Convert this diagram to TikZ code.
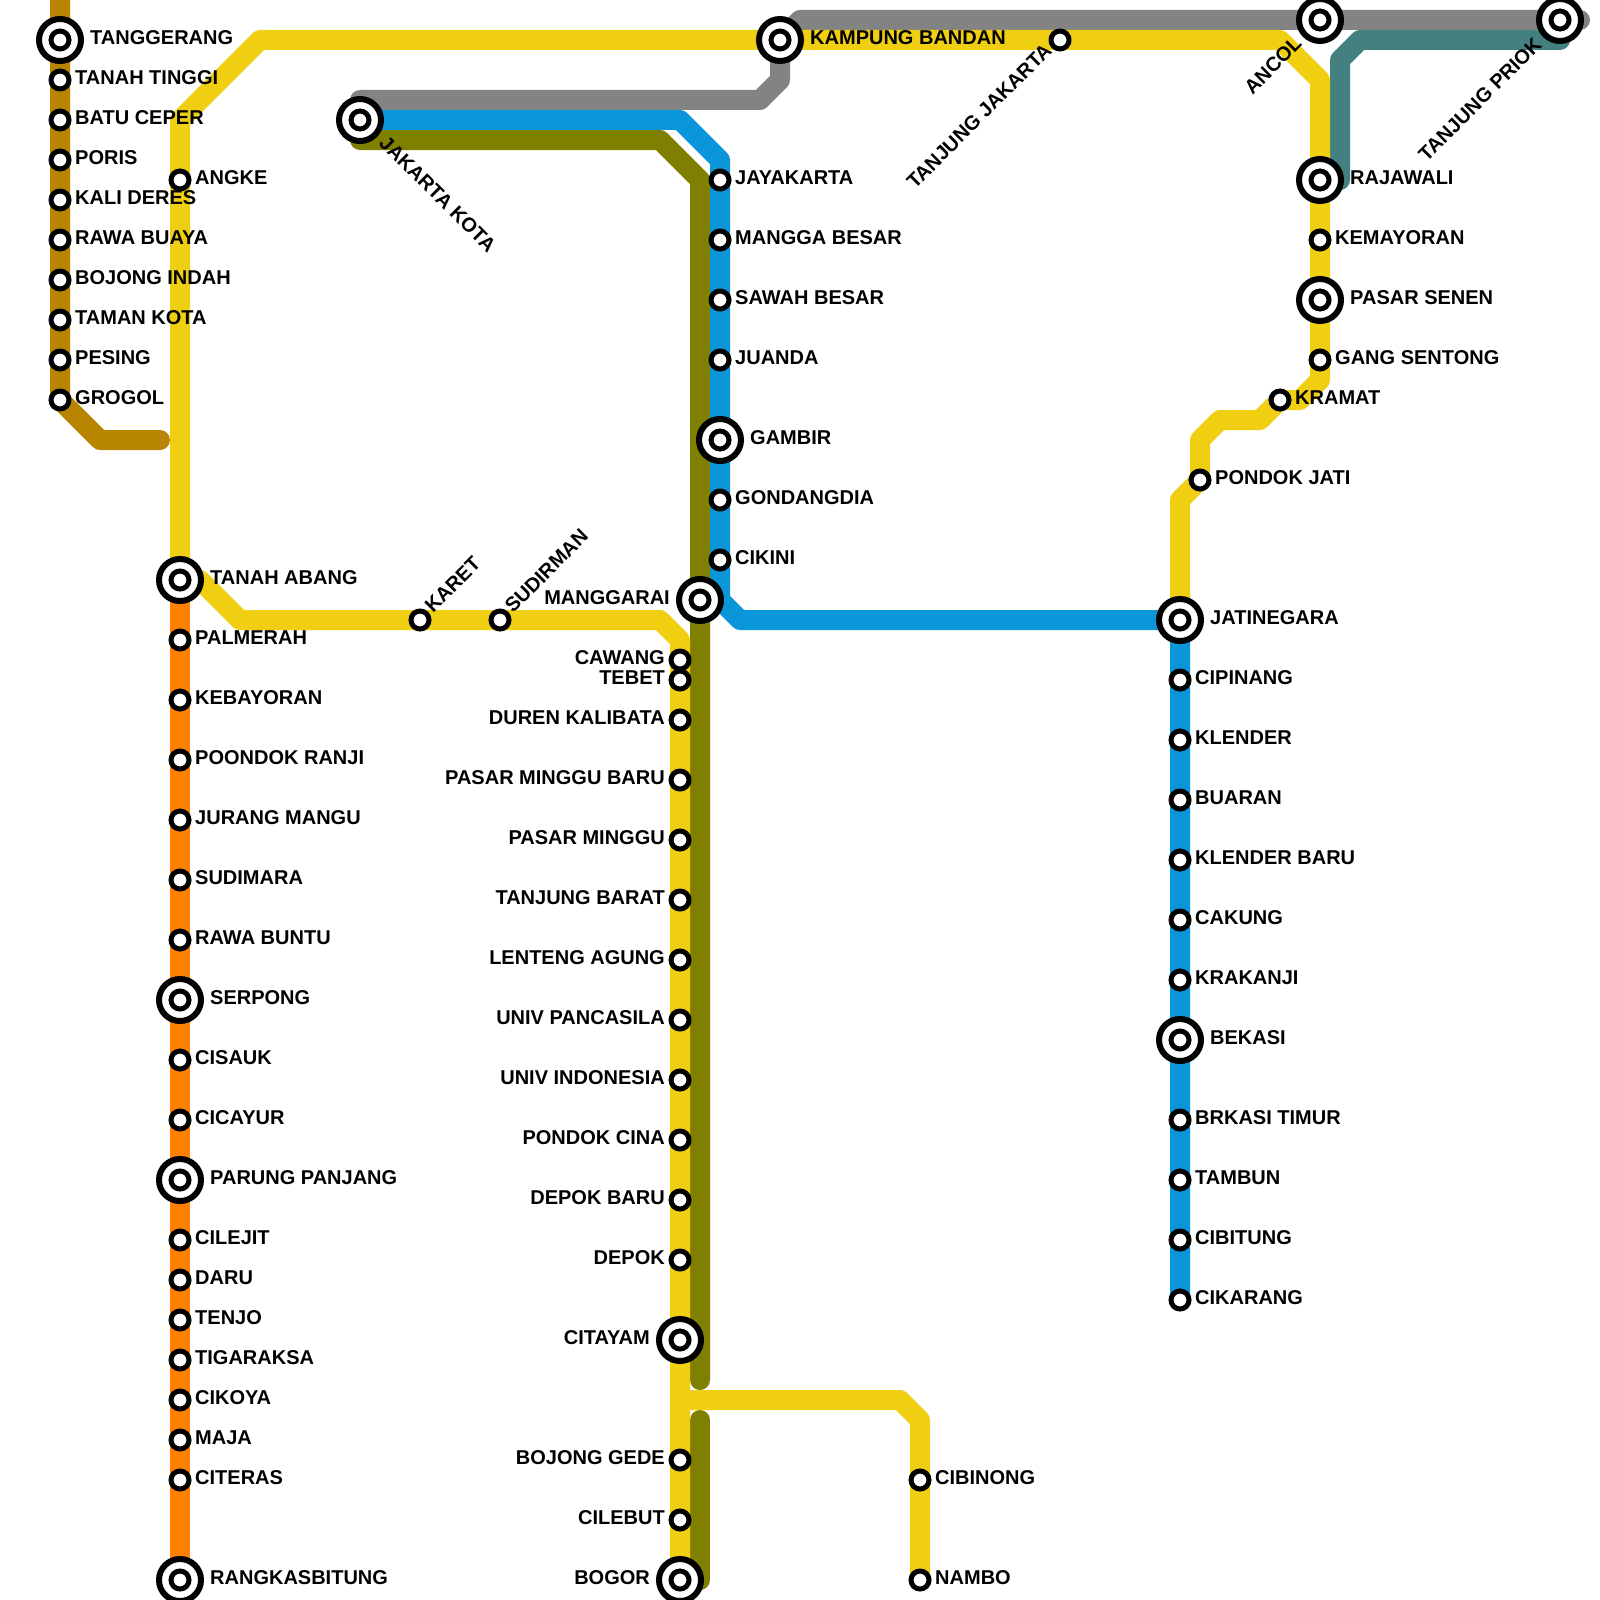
\documentclass[tikz,border=0pt]{standalone}
\usepackage{fontspec}
\setmainfont{Liberation Sans}
\usetikzlibrary{backgrounds}
\definecolor{linebrown}{HTML}{B88500}
\definecolor{lineyellow}{HTML}{F0CF13}
\definecolor{lineorange}{HTML}{FF8000}
\definecolor{lineblue}{HTML}{0A96D8}
\definecolor{lineolive}{HTML}{808000}
\definecolor{linegray}{HTML}{838383}
\definecolor{lineteal}{HTML}{448080}
\tikzset{
  every label/.style={
    font=\bfseries\fontsize{20}{24}\selectfont,
    inner sep=0pt,
    text height=14pt,
    text depth=0pt,
    yshift=2.5pt
  },
  tiltname/.style={
    font=\bfseries\fontsize{20}{24}\selectfont,
    inner sep=0pt
  },
  stop/.style={
    circle,
    draw=black,
    fill=white,
    line width=5pt,
    minimum size=18pt,
    inner sep=0pt,
    outer sep=6pt
  },
  hub/.style={
    circle,
    draw=black,
    fill=white,
    line width=6pt,
    minimum size=42pt,
    inner sep=0pt,
    outer sep=9pt,
    path picture={\draw[line width=5pt] (path picture bounding box.center) circle (9pt);}
  },
  metro/.style={
    line width=20pt,
    line cap=round,
    line join=round
  }
}
\begin{document}
\begin{tikzpicture}[x=1pt,y=-1pt]
\useasboundingbox (0,0) rectangle (1600,1600);

% Tangerang line
\node[hub, label={right:TANGGERANG}] (tanggerang) at (60,40) {};
\node[stop, label={right:TANAH TINGGI}] (tanahtinggi) at (60,80) {};
\node[stop, label={right:BATU CEPER}] (batuceper) at (60,120) {};
\node[stop, label={right:PORIS}] (poris) at (60,160) {};
\node[stop, label={right:KALI DERES}] (kalideres) at (60,200) {};
\node[stop, label={right:RAWA BUAYA}] (rawabuaya) at (60,240) {};
\node[stop, label={right:BOJONG INDAH}] (bojongindah) at (60,280) {};
\node[stop, label={right:TAMAN KOTA}] (tamankota) at (60,320) {};
\node[stop, label={right:PESING}] (pesing) at (60,360) {};
\node[stop, label={right:GROGOL}] (grogol) at (60,400) {};

% Rangkasbitung line
\node[stop, label={right:ANGKE}] (angke) at (180,180) {};
\node[hub, label={right:TANAH ABANG}] (tanahabang) at (180,580) {};
\node[stop, label={right:PALMERAH}] (palmerah) at (180,640) {};
\node[stop, label={right:KEBAYORAN}] (kebayoran) at (180,700) {};
\node[stop, label={right:POONDOK RANJI}] (poondokranji) at (180,760) {};
\node[stop, label={right:JURANG MANGU}] (jurangmangu) at (180,820) {};
\node[stop, label={right:SUDIMARA}] (sudimara) at (180,880) {};
\node[stop, label={right:RAWA BUNTU}] (rawabuntu) at (180,940) {};
\node[hub, label={right:SERPONG}] (serpong) at (180,1000) {};
\node[stop, label={right:CISAUK}] (cisauk) at (180,1060) {};
\node[stop, label={right:CICAYUR}] (cicayur) at (180,1120) {};
\node[hub, label={right:PARUNG PANJANG}] (parungpanjang) at (180,1180) {};
\node[stop, label={right:CILEJIT}] (cilejit) at (180,1240) {};
\node[stop, label={right:DARU}] (daru) at (180,1280) {};
\node[stop, label={right:TENJO}] (tenjo) at (180,1320) {};
\node[stop, label={right:TIGARAKSA}] (tigaraksa) at (180,1360) {};
\node[stop, label={right:CIKOYA}] (cikoya) at (180,1400) {};
\node[stop, label={right:MAJA}] (maja) at (180,1440) {};
\node[stop, label={right:CITERAS}] (citeras) at (180,1480) {};
\node[hub, label={right:RANGKASBITUNG}] (rangkasbitung) at (180,1580) {};

% Bogor line
\node[stop, label={left:CAWANG}] (cawang) at (680,660) {};
\node[stop, label={left:TEBET}] (tebet) at (680,680) {};
\node[stop, label={left:DUREN KALIBATA}] (durenkalibata) at (680,720) {};
\node[stop, label={left:PASAR MINGGU BARU}] (pasarminggubaru) at (680,780) {};
\node[stop, label={left:PASAR MINGGU}] (pasarminggu) at (680,840) {};
\node[stop, label={left:TANJUNG BARAT}] (tanjungbarat) at (680,900) {};
\node[stop, label={left:LENTENG AGUNG}] (lentengagung) at (680,960) {};
\node[stop, label={left:UNIV PANCASILA}] (univpancasila) at (680,1020) {};
\node[stop, label={left:UNIV INDONESIA}] (univindonesia) at (680,1080) {};
\node[stop, label={left:PONDOK CINA}] (pondokcina) at (680,1140) {};
\node[stop, label={left:DEPOK BARU}] (depokbaru) at (680,1200) {};
\node[stop, label={left:DEPOK}] (depok) at (680,1260) {};
\node[hub, label={left:CITAYAM}] (citayam) at (680,1340) {};
\node[stop, label={left:BOJONG GEDE}] (bojonggede) at (680,1460) {};
\node[stop, label={left:CILEBUT}] (cilebut) at (680,1520) {};
\node[hub, label={left:BOGOR}] (bogor) at (680,1580) {};
\node[stop, label={right:CIBINONG}] (cibinong) at (920,1480) {};
\node[stop, label={right:NAMBO}] (nambo) at (920,1580) {};

% central line
\node[hub] (jakartakota) at (360,120) {};
\node[stop, label={right:JAYAKARTA}] (jayakarta) at (720,180) {};
\node[stop, label={right:MANGGA BESAR}] (manggabesar) at (720,240) {};
\node[stop, label={right:SAWAH BESAR}] (sawahbesar) at (720,300) {};
\node[stop, label={right:JUANDA}] (juanda) at (720,360) {};
\node[hub, label={right:GAMBIR}] (gambir) at (720,440) {};
\node[stop, label={right:GONDANGDIA}] (gondangdia) at (720,500) {};
\node[stop, label={right:CIKINI}] (cikini) at (720,560) {};
\node[hub, label={left:MANGGARAI}] (manggarai) at (700,600) {};

% Bekasi line
\node[hub, label={right:JATINEGARA}] (jatinegara) at (1180,620) {};
\node[stop, label={right:CIPINANG}] (cipinang) at (1180,680) {};
\node[stop, label={right:KLENDER}] (klender) at (1180,740) {};
\node[stop, label={right:BUARAN}] (buaran) at (1180,800) {};
\node[stop, label={right:KLENDER BARU}] (klenderbaru) at (1180,860) {};
\node[stop, label={right:CAKUNG}] (cakung) at (1180,920) {};
\node[stop, label={right:KRAKANJI}] (krakanji) at (1180,980) {};
\node[hub, label={right:BEKASI}] (bekasi) at (1180,1040) {};
\node[stop, label={right:BRKASI TIMUR}] (brkasitimur) at (1180,1120) {};
\node[stop, label={right:TAMBUN}] (tambun) at (1180,1180) {};
\node[stop, label={right:CIBITUNG}] (cibitung) at (1180,1240) {};
\node[stop, label={right:CIKARANG}] (cikarang) at (1180,1300) {};

% loop line
\node[hub, label={right:KAMPUNG BANDAN}] (kampungbandan) at (780,40) {};
\node[stop] (tanjungjakarta) at (1060,40) {};
\node[hub] (ancol) at (1320,20) {};
\node[hub] (tanjungpriok) at (1560,20) {};
\node[hub, label={right:RAJAWALI}] (rajawali) at (1320,180) {};
\node[stop, label={right:KEMAYORAN}] (kemayoran) at (1320,240) {};
\node[hub, label={right:PASAR SENEN}] (pasarsenen) at (1320,300) {};
\node[stop, label={right:GANG SENTONG}] (gangsentong) at (1320,360) {};
\node[stop, label={right:KRAMAT}] (kramat) at (1280,400) {};
\node[stop, label={right:PONDOK JATI}] (pondokjati) at (1200,480) {};
\node[stop] (karet) at (420,620) {};
\node[stop] (sudirman) at (500,620) {};

% tilted names
\node[tiltname, rotate=-45, anchor=base west] (jakartakotaname) at (378,144) {JAKARTA KOTA};
\node[tiltname, rotate=45, anchor=base west] (karetname) at (433,614) {KARET};
\node[tiltname, rotate=45, anchor=base west] (sudirmanname) at (513,614) {SUDIRMAN};
\node[tiltname, rotate=45, anchor=base east] (tanjungjakartaname) at (1053,52) {TANJUNG JAKARTA};
\node[tiltname, rotate=45, anchor=base east] (ancolname) at (1303,45) {ANCOL};
\node[tiltname, rotate=45, anchor=base east] (tanjungpriokname) at (1543,46) {TANJUNG PRIOK};

% bends
\coordinate (browntop) at (60,0);
\coordinate (brownbend) at (100,440);
\coordinate (brownend) at (160,440);
\coordinate (westbend) at (180,120);
\coordinate (northbend) at (260,40);
\coordinate (ancolbend) at (1280,40);
\coordinate (ancoldown) at (1320,80);
\coordinate (senenbend) at (1320,380);
\coordinate (kramatbend) at (1300,400);
\coordinate (kramatdown) at (1260,420);
\coordinate (jatibend) at (1220,420);
\coordinate (jatidown) at (1200,440);
\coordinate (jatilow) at (1180,500);
\coordinate (abangbend) at (200,580);
\coordinate (abangdown) at (240,620);
\coordinate (cawangbend) at (660,620);
\coordinate (cawangdown) at (680,640);
\coordinate (nambofork) at (680,1400);
\coordinate (nambobend) at (900,1400);
\coordinate (nambodown) at (920,1420);
\coordinate (graystart) at (360,100);
\coordinate (graybend) at (760,100);
\coordinate (grayup) at (780,80);
\coordinate (graytop) at (800,20);
\coordinate (grayend) at (1580,20);
\coordinate (bluebend) at (680,120);
\coordinate (bluedown) at (720,160);
\coordinate (blueturn) at (720,600);
\coordinate (blueeast) at (740,620);
\coordinate (olivestart) at (360,140);
\coordinate (olivebend) at (660,140);
\coordinate (olivedown) at (700,180);
\coordinate (olivegap) at (700,1380);
\coordinate (oliveresume) at (700,1420);
\coordinate (oliveend) at (700,1580);
\coordinate (tealcorner) at (1340,180);
\coordinate (tealbend) at (1340,60);
\coordinate (tealeast) at (1360,40);
\coordinate (tealend) at (1560,40);

\begin{scope}[on background layer]
\draw[metro, linebrown] (browntop) -- (grogol.center) -- (brownbend) -- (brownend);
\draw[metro, lineorange] (tanahabang.center) -- (rangkasbitung.center);
\draw[metro, linegray] (graystart) -- (graybend) -- (grayup) -- (kampungbandan.center) -- (graytop) -- (grayend);
\draw[metro, lineteal] (rajawali.center) -- (tealcorner) -- (tealbend) -- (tealeast) -- (tealend) -- (tanjungpriok.center);
\draw[metro, lineolive] (olivestart) -- (olivebend) -- (olivedown) -- (olivegap);
\draw[metro, lineolive] (oliveresume) -- (oliveend);
\draw[metro, lineblue] (jakartakota.center) -- (bluebend) -- (bluedown) -- (blueturn) -- (blueeast) -- (jatinegara.center) -- (cikarang.center);
\draw[metro, lineyellow] (tanahabang.center) -- (westbend) -- (northbend) -- (ancolbend) -- (ancoldown) -- (senenbend) -- (kramatbend) -- (kramat.center) -- (kramatdown) -- (jatibend) -- (jatidown) -- (pondokjati.center) -- (jatilow) -- (jatinegara.center);
\draw[metro, lineyellow] (tanahabang.center) -- (abangbend) -- (abangdown) -- (cawangbend) -- (cawangdown) -- (bogor.center);
\draw[metro, lineyellow] (nambofork) -- (nambobend) -- (nambodown) -- (nambo.center);
\end{scope}
\end{tikzpicture}
\end{document}
